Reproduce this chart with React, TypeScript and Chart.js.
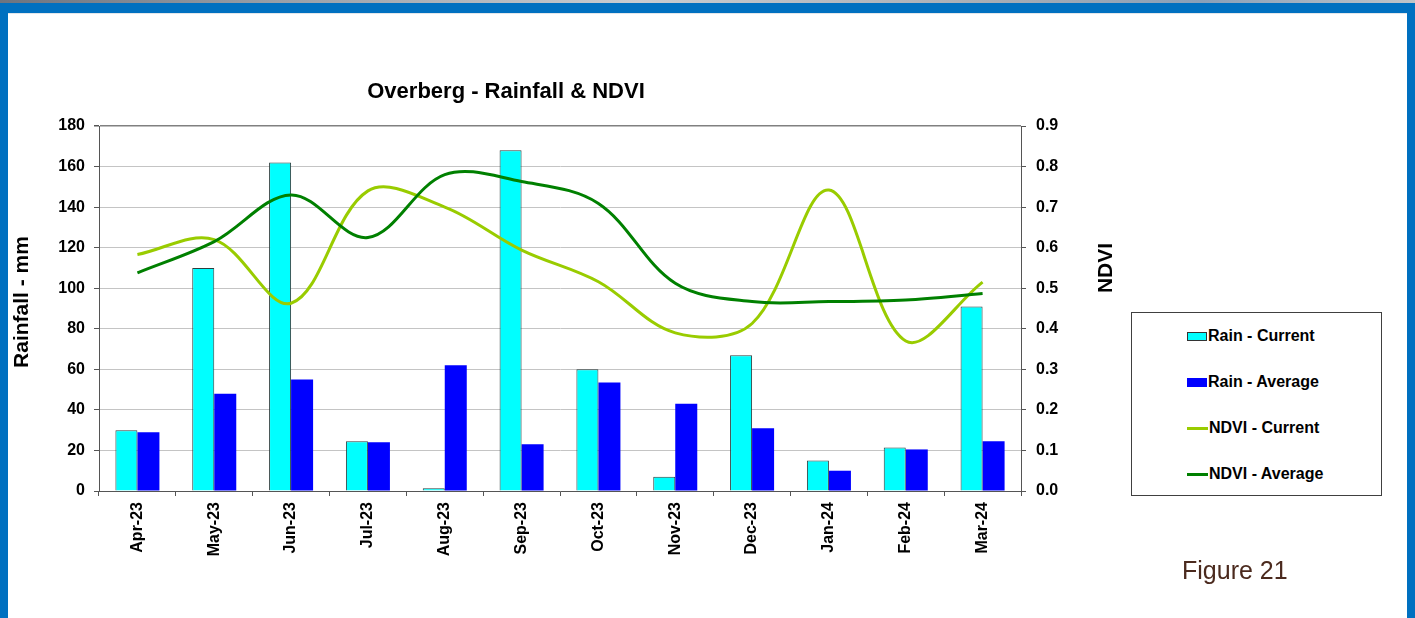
import React, { useEffect, useRef } from "react";
import { Chart, registerables } from "chart.js";

Chart.register(...registerables);

// Months on the category axis
const months = [
  "Apr-23", "May-23", "Jun-23", "Jul-23", "Aug-23", "Sep-23",
  "Oct-23", "Nov-23", "Dec-23", "Jan-24", "Feb-24", "Mar-24",
];

// Monthly rainfall (mm)
const rainCurrent = [30, 110, 162, 24.5, 1.3, 168, 60, 7, 67, 15, 21.5, 91];
const rainAverage = [29, 48, 55, 24, 62, 23, 53.5, 43, 31, 10, 20.5, 24.5];

// Vegetation index
const ndviCurrent = [0.583, 0.62, 0.463, 0.74, 0.7, 0.594, 0.516, 0.39, 0.413, 0.742, 0.37, 0.515];
const ndviAverage = [0.538, 0.615, 0.73, 0.625, 0.78, 0.763, 0.709, 0.512, 0.467, 0.467, 0.471, 0.487];

// Axis ranges
const rainMax = 180;
const rainStep = 20;
const ndviMax = 0.9;
const ndviStep = 0.1;

const chartTitle = "Overberg - Rainfall & NDVI";
const leftTitle = "Rainfall - mm";
const rightTitle = "NDVI";
const figureLabel = "Figure 21";

const FONT = "'Liberation Sans', Arial, Helvetica, sans-serif";

const CYAN = "#00FFFF";
const BLUE = "#0000FF";
const LIGHT_GREEN = "#99CC00";
const DARK_GREEN = "#008000";
const AXIS = "#555555";

// Chart title and the two axis titles, painted straight onto the canvas
const titlesPlugin = {
  id: "titles",
  afterDraw(chart: any) {
    const ctx = chart.ctx as CanvasRenderingContext2D;
    ctx.save();
    ctx.fillStyle = "#000";
    ctx.font = `bold 22px ${FONT}`;
    ctx.textAlign = "center";
    ctx.textBaseline = "alphabetic";
    ctx.fillText(chartTitle, 506, 98);

    ctx.font = `bold 21px ${FONT}`;
    ctx.save();
    ctx.translate(28, 302);
    ctx.rotate(-Math.PI / 2);
    ctx.fillText(leftTitle, 0, 0);
    ctx.restore();

    ctx.save();
    ctx.translate(1112, 268);
    ctx.rotate(-Math.PI / 2);
    ctx.fillText(rightTitle, 0, 0);
    ctx.restore();
    ctx.restore();
  },
};

function LegendRow({ kind, color, label, top }: { kind: "box" | "line"; color: string; label: string; top: number }) {
  return (
    <div
      style={{
        position: "absolute",
        left: 55,
        top: top - 10,
        height: 20,
        display: "flex",
        alignItems: "center",
        font: `bold 16px ${FONT}`,
        color: "#000",
        whiteSpace: "nowrap",
      }}
    >
      {kind === "box" ? (
        <span
          style={{
            display: "inline-block",
            width: 18,
            height: 7,
            background: color,
            border: color === CYAN ? "1px solid #333" : `1px solid ${color}`,
            marginRight: 1,
          }}
        />
      ) : (
        <span style={{ display: "inline-block", width: 21, height: 3, background: color, marginRight: 1 }} />
      )}
      <span>{label}</span>
    </div>
  );
}

export default function App() {
  const canvasRef = useRef<HTMLCanvasElement | null>(null);

  useEffect(() => {
    const canvas = canvasRef.current;
    if (!canvas) return;
    const chart = new Chart(canvas, {
      type: "bar",
      data: {
        labels: months,
        datasets: [
          {
            type: "line",
            label: "NDVI - Current",
            data: ndviCurrent,
            yAxisID: "y1",
            borderColor: LIGHT_GREEN,
            borderWidth: 3,
            pointRadius: 0,
            tension: 0.35,
            fill: false,
            order: 1,
          },
          {
            type: "line",
            label: "NDVI - Average",
            data: ndviAverage,
            yAxisID: "y1",
            borderColor: DARK_GREEN,
            borderWidth: 3,
            pointRadius: 0,
            tension: 0.35,
            fill: false,
            order: 0,
          },
          {
            type: "bar",
            label: "Rain - Current",
            data: rainCurrent,
            yAxisID: "y",
            backgroundColor: CYAN,
            borderColor: "#2f3f3f",
            borderWidth: 1,
            categoryPercentage: 0.573,
            barPercentage: 1,
            order: 2,
          },
          {
            type: "bar",
            label: "Rain - Average",
            data: rainAverage,
            yAxisID: "y",
            backgroundColor: BLUE,
            borderWidth: 0,
            categoryPercentage: 0.573,
            barPercentage: 1,
            order: 3,
          },
        ] as any,
      },
      options: {
        responsive: false,
        animation: false,
        layout: { padding: { left: 0, top: 126, right: 334, bottom: 47 } },
        plugins: {
          legend: { display: false },
          title: { display: false },
          tooltip: { enabled: false },
        },
        scales: {
          x: {
            offset: true,
            grid: {
              offset: true,
              drawOnChartArea: false,
              drawTicks: true,
              tickLength: 5,
              tickColor: AXIS,
            },
            border: { color: AXIS, width: 1 },
            ticks: {
              minRotation: 90,
              maxRotation: 90,
              autoSkip: false,
              padding: 6,
              color: "#000",
              font: { family: FONT, size: 16, weight: "bold" },
            },
            afterFit: (s: any) => {
              s.height = 80;
            },
          },
          y: {
            position: "left",
            min: 0,
            max: rainMax,
            ticks: {
              stepSize: rainStep,
              padding: 9,
              color: "#000",
              font: { family: FONT, size: 16, weight: "bold" },
            },
            grid: {
              color: (c: any) => (c.tick && c.tick.value === rainMax ? "#808080" : "#c4c4c4"),
              lineWidth: (c: any) => (c.tick && c.tick.value === rainMax ? 1.5 : 1),
              tickLength: 5,
              tickColor: AXIS,
            },
            border: { color: AXIS, width: 1 },
            afterFit: (s: any) => {
              s.width = 99;
            },
          },
          y1: {
            position: "right",
            min: 0,
            max: ndviMax,
            ticks: {
              stepSize: ndviStep,
              padding: 10,
              color: "#000",
              font: { family: FONT, size: 16, weight: "bold" },
              callback: (v: any) => Number(v).toFixed(1),
            },
            grid: {
              drawOnChartArea: false,
              tickLength: 5,
              tickColor: AXIS,
            },
            border: { color: AXIS, width: 1 },
            afterFit: (s: any) => {
              s.width = 60;
            },
          },
        },
      } as any,
      plugins: [titlesPlugin],
    });
    return () => chart.destroy();
  }, []);

  return (
    <div
      style={{
        position: "fixed",
        left: 0,
        top: 0,
        width: 1415,
        height: 618,
        background: "#0070C0",
        overflow: "hidden",
      }}
    >
      <div
        style={{
          position: "absolute",
          left: 0,
          top: 0,
          width: 1415,
          height: 3,
          background: "linear-gradient(90deg, #6d7480 0%, #9aa0a8 20%, #c9ccd0 45%, #a8adb4 70%, #8aa0b8 85%, #c0c4c8 100%)",
        }}
      />
      <div
        style={{
          position: "absolute",
          left: 8,
          top: 13,
          width: 1399,
          height: 605,
          background: "#ffffff",
          borderTop: "1px solid #e2e6ea",
          boxSizing: "border-box",
        }}
      />
      <canvas
        ref={canvasRef}
        width={1415}
        height={618}
        style={{ position: "absolute", left: 0, top: 0, width: 1415, height: 618 }}
      />
      <div
        style={{
          position: "absolute",
          left: 1131,
          top: 312,
          width: 251,
          height: 184,
          border: "1px solid #404040",
          boxSizing: "border-box",
          background: "#fff",
        }}
      >
        <LegendRow kind="box" color={CYAN} label="Rain - Current" top={23} />
        <LegendRow kind="box" color={BLUE} label="Rain - Average" top={69} />
        <LegendRow kind="line" color={LIGHT_GREEN} label="NDVI - Current" top={115} />
        <LegendRow kind="line" color={DARK_GREEN} label="NDVI - Average" top={161} />
      </div>
      <div
        style={{
          position: "absolute",
          left: 1182,
          top: 558,
          font: `25px ${FONT}`,
          lineHeight: "25px",
          color: "#4B2A1E",
          whiteSpace: "nowrap",
        }}
      >
        {figureLabel}
      </div>
    </div>
  );
}
